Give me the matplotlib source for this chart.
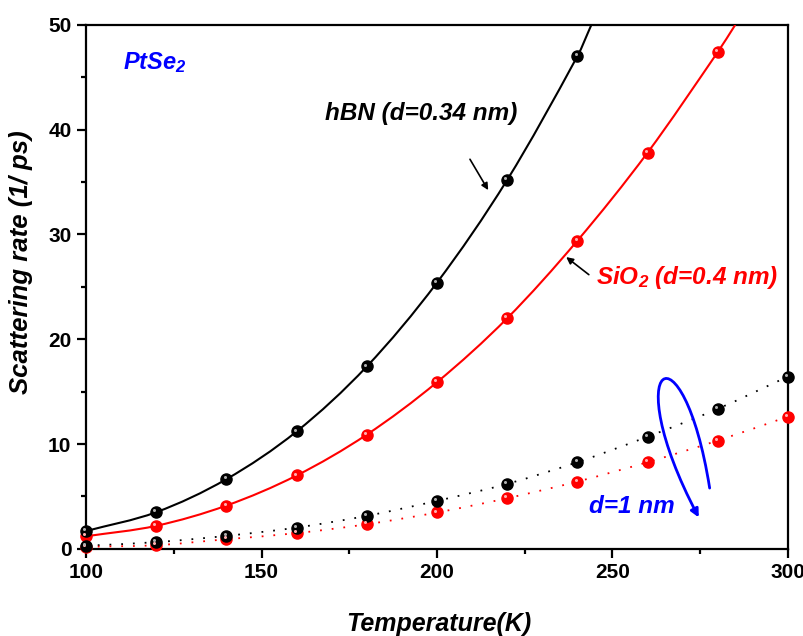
import matplotlib
matplotlib.use('Agg')
import matplotlib.pyplot as plt
from matplotlib.path import Path
from matplotlib.patches import FancyArrowPatch, PathPatch
from matplotlib.ticker import MultipleLocator
import matplotlib.transforms as mtransforms

plt.rcParams['font.family'] = ['Liberation Sans', 'DejaVu Sans']
plt.rcParams['mathtext.fontset'] = 'custom'
plt.rcParams['mathtext.rm'] = 'Liberation Sans:bold:italic'
plt.rcParams['mathtext.it'] = 'Liberation Sans:bold:italic'
plt.rcParams['mathtext.bf'] = 'Liberation Sans:bold:italic'

# values
temp = [100, 120, 140, 160, 180, 200, 220, 240, 260, 280, 300]
hbn = [1.7, 3.5, 6.65, 11.2, 17.4, 25.4, 35.2, 47.0]
sio2 = [1.2, 2.2, 4.13, 7.0, 10.9, 15.9, 22.0, 29.4, 37.8, 47.4]
hbn_1nm = [0.3, 0.64, 1.24, 2.03, 3.15, 4.58, 6.2, 8.27, 10.7, 13.36, 16.44]
sio2_1nm = [0.2, 0.35, 0.92, 1.5, 2.35, 3.47, 4.83, 6.42, 8.27, 10.33, 12.62]
# where the fitted curves leave the top of the frame
hbn_end = (244.0, 50.0)
sio2_end = (285.0, 50.0)

fig = plt.figure(figsize=(8.04, 6.36), dpi=100)
ax = fig.add_axes([0.107, 0.137, 0.873, 0.824])

hl = mtransforms.offset_copy(ax.transData, fig=fig, x=-1.3, y=1.3, units='points')


def smooth_line(x, y, **kw):
    # smooth bezier path through the points (cubic hermite, tangents from neighbours)
    n = len(x)
    slope = []
    for i in range(n):
        a, b = max(i - 1, 0), min(i + 1, n - 1)
        slope.append((y[b] - y[a]) / (x[b] - x[a]))
    verts = [(x[0], y[0])]
    codes = [Path.MOVETO]
    for i in range(n - 1):
        dx = (x[i + 1] - x[i]) / 3
        verts += [(x[i] + dx, y[i] + dx * slope[i]),
                  (x[i + 1] - dx, y[i + 1] - dx * slope[i + 1]),
                  (x[i + 1], y[i + 1])]
        codes += [Path.CURVE4] * 3
    ax.add_patch(PathPatch(Path(verts, codes), fill=False, capstyle='butt', **kw))


def balls(x, y, color, shine):
    ax.plot(x, y, 'o', color=color, ms=8, mec=color, zorder=4, clip_on=False)
    ax.plot(x, y, 'o', color=shine, ms=2.2, mew=0, zorder=5, transform=hl, clip_on=False)


# solid fitted curves
smooth_line(temp[:len(hbn)] + [hbn_end[0]], hbn + [hbn_end[1]], ec='black', lw=1.5, zorder=3)
smooth_line(temp[:len(sio2)] + [sio2_end[0]], sio2 + [sio2_end[1]], ec='red', lw=1.5, zorder=3)
# dotted d = 1 nm curves
smooth_line(temp, hbn_1nm, ec='black', lw=1.3, ls=(0, (1, 5.5)), zorder=3)
smooth_line(temp, sio2_1nm, ec='red', lw=1.3, ls=(0, (1, 5.5)), zorder=3)

balls(temp[:len(sio2)], sio2, 'red', '#ffb0b0')
balls(temp[:len(hbn)], hbn, 'black', '#b0b0b0')
balls(temp, sio2_1nm, 'red', '#ffb0b0')
balls(temp, hbn_1nm, 'black', '#b0b0b0')

ax.set_xlim(100, 300)
ax.set_ylim(0, 50)
ax.xaxis.set_major_locator(MultipleLocator(50))
ax.xaxis.set_minor_locator(MultipleLocator(25))
ax.yaxis.set_major_locator(MultipleLocator(10))
ax.yaxis.set_minor_locator(MultipleLocator(5))
for s in ax.spines.values():
    s.set_linewidth(1.6)
ax.tick_params(which='major', direction='out', length=6.5, width=1.6, labelsize=15, pad=4)
ax.tick_params(which='minor', direction='out', length=3.5, width=1.6)
for lab in ax.get_xticklabels() + ax.get_yticklabels():
    lab.set_fontweight('bold')

ax.set_xlabel('Temperature(K)', fontsize=18, fontweight='bold', style='italic')
ax.set_ylabel('Scattering rate (1/ ps)', fontsize=18.5, fontweight='bold', style='italic')
ax.xaxis.set_label_coords(0.503, -0.12)
ax.yaxis.set_label_coords(-0.076, 0.548)

ax.text(0.053, 0.915, 'PtSe$_2$', transform=ax.transAxes, color='blue', fontsize=17,
        fontweight='bold', style='italic', va='baseline')

ax.text(168, 41.5, 'hBN (d=0.34 nm)', fontsize=17.5, fontweight='bold', style='italic',
        va='center')
ax.annotate('', xy=(215.0, 34.0), xytext=(209.0, 37.4),
            arrowprops=dict(arrowstyle='-|>', color='black', lw=1.2, mutation_scale=10))

ax.text(245.3, 25.9, 'SiO$_2$ (d=0.4 nm)', fontsize=17.5, fontweight='bold', style='italic',
        color='red', va='center')
ax.annotate('', xy=(236.2, 28.0), xytext=(243.9, 26.0),
            arrowprops=dict(arrowstyle='-|>', color='black', lw=1.2, mutation_scale=10))

ax.text(243.2, 4.0, 'd=1 nm', fontsize=17.5, fontweight='bold', style='italic',
        color='blue', va='center')

loop = Path([(277.7, 5.8), (270, 22), (251, 18), (274.6, 3.0)],
            [Path.MOVETO, Path.CURVE4, Path.CURVE4, Path.CURVE4])
ax.add_patch(FancyArrowPatch(path=loop, arrowstyle='-|>', color='blue', lw=2,
                             mutation_scale=12, zorder=6))

fig.savefig('out.png', dpi=100)
